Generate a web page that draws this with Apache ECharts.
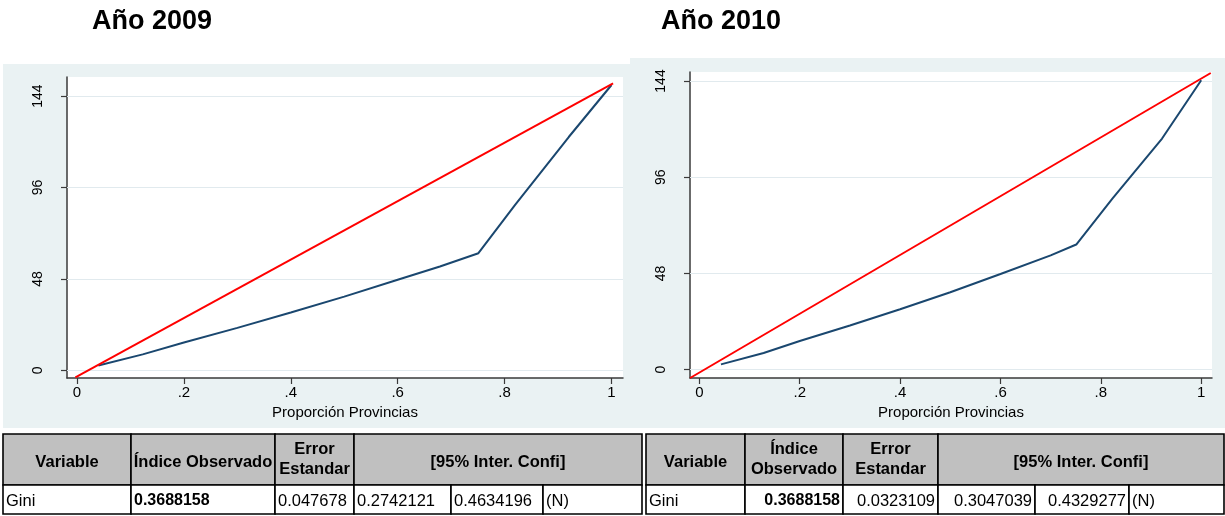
<!DOCTYPE html>
<html>
<head>
<meta charset="utf-8">
<script src="https://cdn.jsdelivr.net/npm/echarts@6/dist/echarts.min.js"></script>
<style>
  html, body { margin: 0; padding: 0; background: #ffffff; }
  #chart { width: 1225px; height: 516px; }
</style>
</head>
<body>
<div id="chart"></div>
<script>
// ---------------- DATA ----------------
const years = ['Año 2009', 'Año 2010'];
const xAxisName = 'Proporción Provincias';
const xTicks = [0, 0.2, 0.4, 0.6, 0.8, 1];
const xTickLabels = ['0', '.2', '.4', '.6', '.8', '1'];
const yTicks = [0, 48, 96, 144];

// Lorenz curve 2009
const lorenzX2009 = [0.040, 0.123, 0.2, 0.3, 0.4, 0.5, 0.6, 0.679, 0.751, 0.82, 0.92, 1.0];
const lorenzY2009 = [2.6, 8.4, 14.6, 22.3, 30.4, 38.7, 47.6, 54.5, 61.5, 87.0, 122.5, 149.8];
// Equality line 2009
const equalX2009 = [-0.003, 1.003];
const equalY2009 = [-3.7, 150.7];

// Lorenz curve 2010
const lorenzX2010 = [0.043, 0.128, 0.2, 0.3, 0.4, 0.5, 0.6, 0.7, 0.751, 0.823, 0.922, 1.0];
const lorenzY2010 = [2.6, 8.3, 14.3, 22.0, 30.1, 38.6, 47.7, 57.0, 62.4, 85.3, 115.3, 144.4];
// Equality line 2010
const equalX2010 = [-0.0185, 1.019];
const equalY2010 = [-4.2, 148.0];

// Tables
const header2009 = ['Variable', 'Índice Observado', 'Error\nEstandar', '[95% Inter. Confi]'];
const row2009 = ['Gini', '0.3688158', '0.047678', '0.2742121', '0.4634196', '(N)'];
const header2010 = ['Variable', 'Índice\nObservado', 'Error\nEstandar', '[95% Inter. Confi]'];
const row2010 = ['Gini', '0.3688158', '0.0323109', '0.3047039', '0.4329277', '(N)'];

// ---------------- LAYOUT / STYLE ----------------
const FONT = '"Liberation Sans", Arial, Helvetica, sans-serif';
const PANEL = '#eaf2f3';
const NAVY = '#1a476f';
const RED = '#ff0000';

function pairs(xs, ys) { return xs.map((x, i) => [x, ys[i]]); }
function xLabel(v) {
  let best = 0;
  for (let i = 1; i < xTicks.length; i++) if (Math.abs(xTicks[i] - v) < Math.abs(xTicks[best] - v)) best = i;
  return xTickLabels[best];
}

const grids = [
  { left: 67, top: 77, width: 556, height: 301, yMin: -4.0, yMax: 154.0 },
  { left: 690, top: 72, width: 522, height: 306, yMin: -4.2, yMax: 148.5 }
];

const xAxes = grids.map((g, i) => ({
  type: 'value', gridIndex: i, min: -0.0187, max: 1.0215,
  name: xAxisName, nameLocation: 'middle', nameGap: 15,
  nameTextStyle: { fontFamily: FONT, fontSize: 15, color: '#000' },
  axisLine: { show: true, onZero: false, lineStyle: { color: '#3a3a3a', width: 1.5 } },
  axisTick: { show: true, length: 6, customValues: xTicks, lineStyle: { color: '#3a3a3a', width: 1.2 } },
  axisLabel: { customValues: xTicks, formatter: xLabel, margin: 7, fontFamily: FONT, fontSize: 15, color: '#000' },
  splitLine: { show: false }
}));

const yAxes = grids.map((g, i) => ({
  type: 'value', gridIndex: i, min: g.yMin, max: g.yMax,
  axisLine: { show: true, onZero: false, lineStyle: { color: '#3a3a3a', width: 1.5 } },
  axisTick: { show: true, length: 6, customValues: yTicks, lineStyle: { color: '#3a3a3a', width: 1.2 } },
  axisLabel: { customValues: yTicks, rotate: 90, margin: 22, fontFamily: FONT, fontSize: 14, color: '#000' },
  splitLine: { show: false }
}));

const lorenz = [pairs(lorenzX2009, lorenzY2009), pairs(lorenzX2010, lorenzY2010)];
const equality = [pairs(equalX2009, equalY2009), pairs(equalX2010, equalY2010)];

const series = [];
grids.forEach((g, i) => {
  series.push({
    type: 'line', xAxisIndex: i, yAxisIndex: i, data: [], z: 1,
    showSymbol: false, silent: true,
    markLine: {
      z: 1, silent: true, symbol: ['none', 'none'], label: { show: false },
      lineStyle: { color: '#e1eaee', width: 1, type: 'solid' },
      data: yTicks.map(v => ({ yAxis: v })), animation: false
    }
  });
  series.push({
    type: 'line', xAxisIndex: i, yAxisIndex: i, data: lorenz[i], z: 3,
    showSymbol: false, symbol: 'none', lineStyle: { color: NAVY, width: 2 }
  });
  series.push({
    type: 'line', xAxisIndex: i, yAxisIndex: i, data: equality[i], z: 4,
    showSymbol: false, symbol: 'none', lineStyle: { color: RED, width: 2 }
  });
});

// ---------------- GRAPHICS (panels, titles, tables) ----------------
const elements = [];
elements.push({ type: 'rect', z: -10, shape: { x: 3, y: 64, width: 627, height: 364 }, style: { fill: PANEL } });
elements.push({ type: 'rect', z: -10, shape: { x: 630, y: 58, width: 595, height: 370 }, style: { fill: PANEL } });

const titleX = [92, 661];
years.forEach((t, i) => {
  elements.push({ type: 'text', z: 10, style: { text: t, x: titleX[i], y: 22, font: 'bold 27px ' + FONT, fill: '#000', align: 'left', verticalAlign: 'middle' } });
});

function buildTable(cols, header, row, aligns) {
  const top = 434, mid = 485, bot = 514;
  const spans = [[0, 1], [1, 2], [2, 3], [3, 6]];
  spans.forEach((s, k) => {
    const x0 = cols[s[0]], x1 = cols[s[1]];
    elements.push({ type: 'rect', z: 5, shape: { x: x0, y: top, width: x1 - x0, height: mid - top },
      style: { fill: '#c0c0c0', stroke: '#000', lineWidth: 1.6 } });
    const multi = header[k].indexOf('\n') >= 0;
    elements.push({ type: 'text', z: 6, style: { text: header[k], x: (x0 + x1) / 2, y: multi ? 459 : 462,
      font: 'bold 16.5px ' + FONT, fill: '#000', align: 'center', verticalAlign: 'middle', lineHeight: 20 } });
  });
  for (let c = 0; c < 6; c++) {
    const x0 = cols[c], x1 = cols[c + 1];
    elements.push({ type: 'rect', z: 5, shape: { x: x0, y: mid, width: x1 - x0, height: bot - mid },
      style: { fill: '#fff', stroke: '#000', lineWidth: 1.6 } });
    const right = aligns[c] === 'right';
    elements.push({ type: 'text', z: 6, style: { text: row[c], x: right ? x1 - 3 : x0 + 3, y: 501,
      font: (c === 1 ? 'bold 16px ' : '16.5px ') + FONT, fill: '#000', align: aligns[c], verticalAlign: 'middle' } });
  }
}
buildTable([3, 131, 275, 354, 451, 543, 642], header2009, row2009, ['left', 'left', 'left', 'left', 'left', 'left']);
buildTable([646, 745, 843, 938, 1035, 1129, 1224], header2010, row2010, ['left', 'right', 'right', 'right', 'right', 'left']);

const chart = echarts.init(document.getElementById('chart'), null, { renderer: 'canvas' });
chart.setOption({
  animation: false,
  backgroundColor: '#ffffff',
  textStyle: { fontFamily: FONT },
  grid: grids.map(g => ({ left: g.left, top: g.top, width: g.width, height: g.height, show: true,
    backgroundColor: '#ffffff', borderWidth: 0, containLabel: false })),
  xAxis: xAxes,
  yAxis: yAxes,
  series: series,
  graphic: { elements: elements }
});
</script>
</body>
</html>
